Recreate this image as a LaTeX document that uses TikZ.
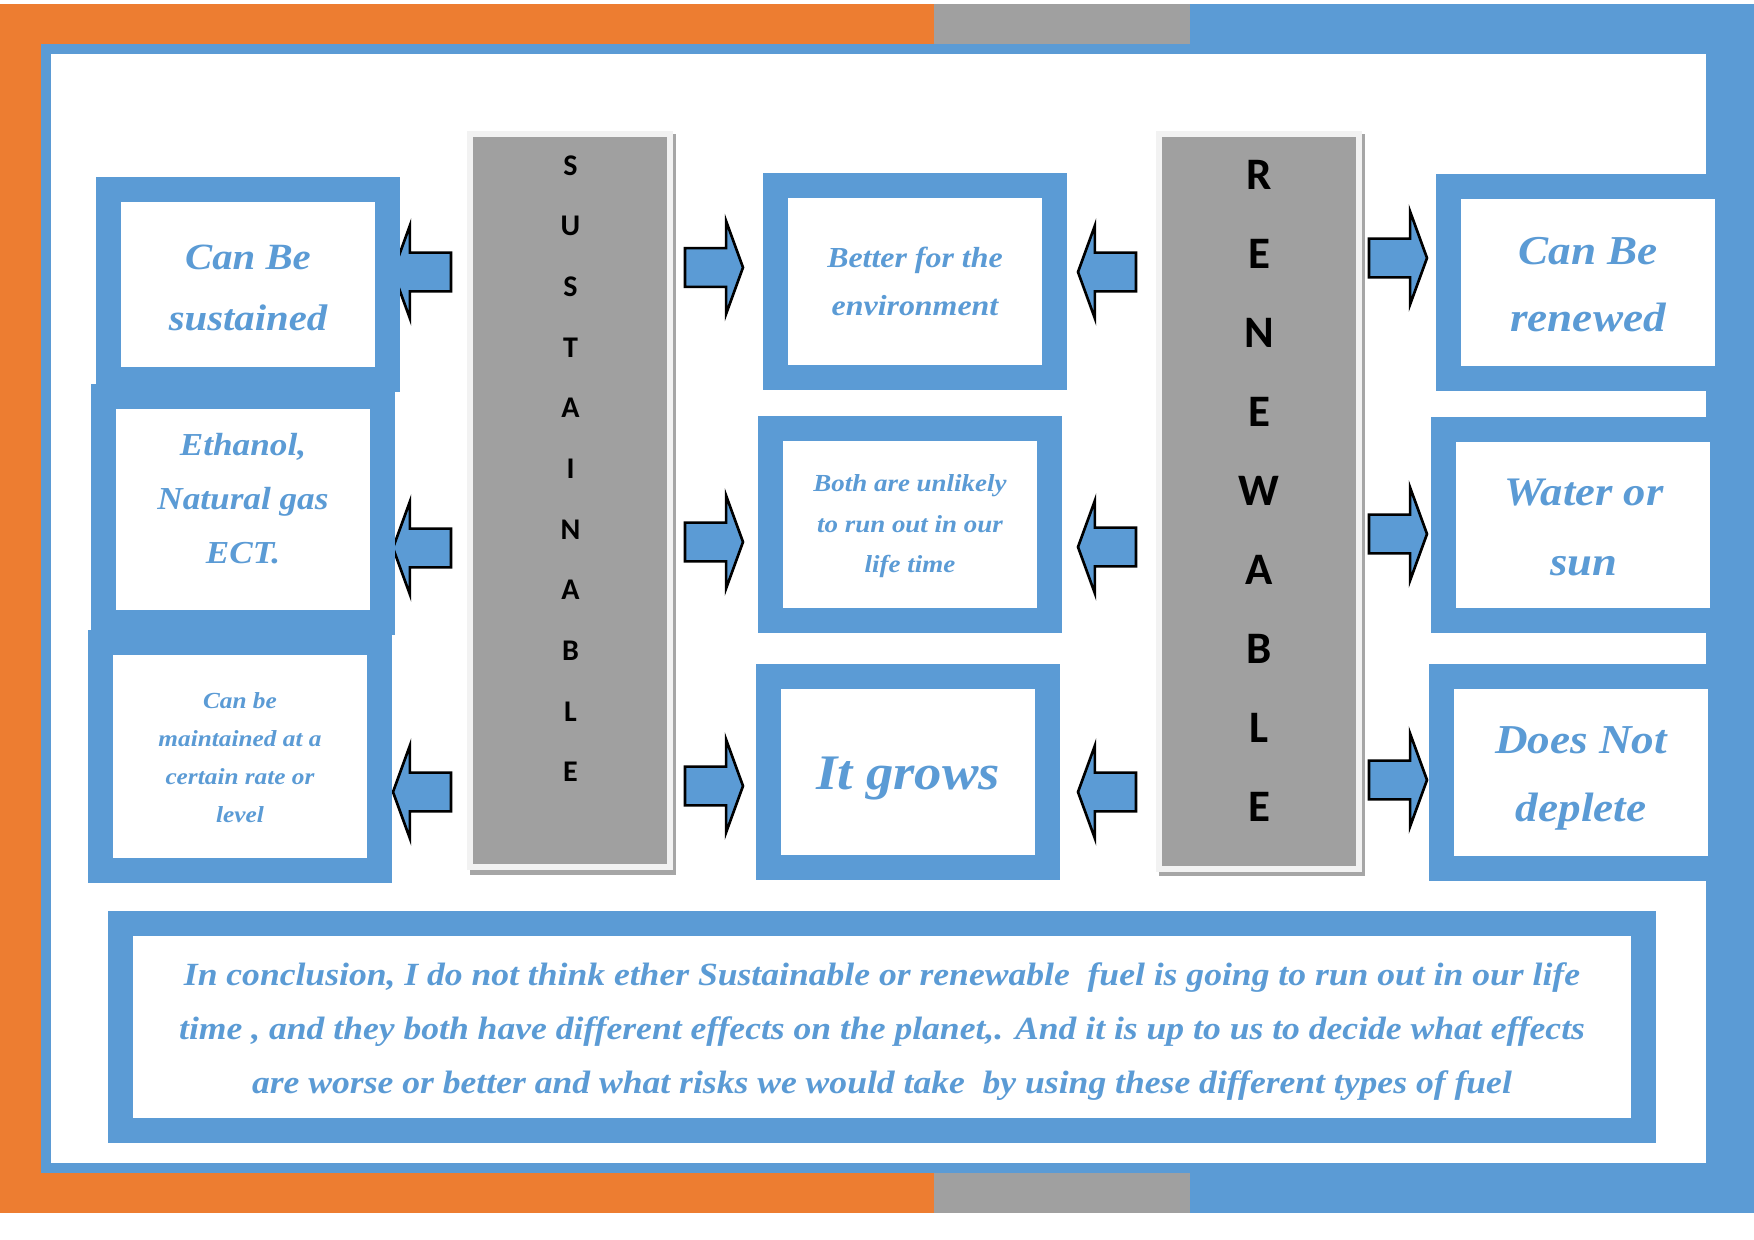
\documentclass[tikz,border=0pt]{standalone}
\usepackage{fontspec}
\usetikzlibrary{shapes.arrows}
\newfontfamily\cambr[FakeStretch=1.1]{Liberation Serif}
\newfontfamily\calib{Carlito}
\definecolor{myblue}{HTML}{5B9BD5}
\definecolor{orng}{HTML}{ED7D31}
\definecolor{bandgray}{HTML}{A0A0A0}
\definecolor{pillgray}{HTML}{A0A0A0}
\definecolor{pilllight}{HTML}{F2F2F2}
\definecolor{shadowgray}{HTML}{A6A6A6}
\newcommand\myfs[2]{\fontsize{#1}{#2}\selectfont\cambr\bfseries\itshape}
\tikzset{
  boxst/.style={draw=myblue, fill=white, line width=0.25cm, minimum width=2.79cm, inner sep=0pt},
  txt/.style={text=myblue, align=center, inner sep=0pt},
  pil/.style={draw=pilllight, fill=pillgray, line width=0.06cm, minimum width=2cm, inner sep=0pt},
  plet/.style={inner sep=0pt, text=black},
  barrow/.style={single arrow, draw=black, fill=myblue, line width=0.75pt,
    inner xsep=0pt, inner ysep=0.18cm, single arrow head extend=0.27cm,
    single arrow tip angle=140, minimum height=0.58cm, minimum width=0pt,
    outer sep=0pt, anchor=tip},
  larrow/.style={barrow, shape border rotate=180}
}
\begin{document}
\begin{tikzpicture}[x=0.01cm, y=-0.01cm]
\useasboundingbox (0,0) rectangle (1754,1240);
\fill[white] (0,0) rectangle (1754,1240);
% frame
\fill[orng] (0,4) rectangle (934,44);
\fill[bandgray] (934,4) rectangle (1190,44);
\fill[myblue] (1190,4) rectangle (1754,44);
\fill[orng] (0,4) rectangle (41,1213);
\fill[myblue] (1706,4) rectangle (1754,1213);
\fill[orng] (0,1173) rectangle (934,1213);
\fill[bandgray] (934,1173) rectangle (1190,1213);
\fill[myblue] (1190,1173) rectangle (1754,1213);
\fill[myblue] (41,44) rectangle (1706,1173);
\fill[white] (51,54) rectangle (1706,1163);
% pillars
\fill[shadowgray] (470,134) rectangle (676,875);
\node[pil, minimum height=7.33cm] (spil) at (570,500.5) {};
\fill[shadowgray] (1159,134) rectangle (1365,876);
\node[pil, minimum height=7.35cm] (rpil) at (1259,501.5) {};
\foreach \l [count=\i] in {S,U,S,T,A,I,N,A,B,L,E}
  \node[plet, font=\calib\bfseries\fontsize{8.54pt}{10pt}\selectfont] (sl\i) at (570.5,{165.5+60.65*(\i-1)}) {\l};
\foreach \l [count=\i] in {R,E,N,E,W,A,B,L,E}
  \node[plet, font=\calib\bfseries\fontsize{12.8pt}{15pt}\selectfont] (rl\i) at (1259,{174.5+79*(\i-1)}) {\l};
% arrows
\node[larrow] (la1) at (393,272) {};
\node[larrow] (la2) at (393,548) {};
\node[larrow] (la3) at (393,792) {};
\node[barrow] (sa1) at (743,267.5) {};
\node[barrow] (sa2) at (743,542) {};
\node[barrow] (sa3) at (743,786) {};
\node[larrow] (ra1) at (1078,272) {};
\node[larrow] (ra2) at (1078,547) {};
\node[larrow] (ra3) at (1078,792) {};
\node[barrow] (rr1) at (1427,258) {};
\node[barrow] (rr2) at (1427,534) {};
\node[barrow] (rr3) at (1427,780) {};
% boxes
\node[boxst, minimum height=1.90cm] (l1) at (248,284.5) {};
\node[boxst, minimum height=2.26cm] (l2) at (243,509.5) {};
\node[boxst, minimum height=2.28cm] (l3) at (240,756.5) {};
\node[boxst, minimum height=1.92cm] (m1) at (915,281.5) {};
\node[boxst, minimum height=1.92cm] (m2) at (910,524.5) {};
\node[boxst, minimum height=1.91cm] (m3) at (908,772) {};
\node[boxst, minimum height=1.92cm] (r1) at (1588,282.5) {};
\node[boxst, minimum height=1.91cm] (r2) at (1583,525) {};
\node[boxst, minimum height=1.92cm] (r3) at (1581,772.5) {};
\node[boxst, minimum width=15.22cm, minimum height=2.07cm] (bot) at (882,1027) {};
% texts
\node[txt, font=\myfs{10.53pt}{17.36pt}] (l1t) at (248,288) {Can Be\\sustained};
\node[txt, font=\myfs{9.1pt}{15.36pt}] (l2t) at (243,499) {Ethanol,\\Natural gas\\ECT.};
\node[txt, font=\myfs{6.54pt}{10.73pt}] (l3t) at (240,757.6) {Can be\\maintained at a\\certain rate or\\level};
\node[txt, font=\myfs{8.25pt}{13.66pt}] (m1t) at (915,281) {Better for the\\environment};
\node[txt, font=\myfs{6.97pt}{11.52pt}] (m2t) at (910,526.5) {Both are unlikely\\to run out in our\\life time};
\node[txt, font=\myfs{14.14pt}{17pt}] (m3t) at (908,778.8) {It grows};
\node[txt, font=\myfs{11.67pt}{19.06pt}] (r1t) at (1588,284.7) {Can Be\\renewed};
\node[txt, font=\myfs{11.52pt}{19.92pt}] (r2t) at (1584,527.5) {Water or\\sun};
\node[txt, font=\myfs{11.67pt}{19.35pt}] (r3t) at (1581,778.8) {Does Not\\deplete};
\node[txt, font=\myfs{9.2pt}{15.36pt}] (bt) at (882,1031.4) {In conclusion, I do not think ether Sustainable or renewable \ fuel is going to run out in our life\\time , and they both have different effects on the planet,. And it is up to us to decide what effects\\are worse or better and what risks we would take \ by using these different types of fuel};
\end{tikzpicture}
\end{document}
